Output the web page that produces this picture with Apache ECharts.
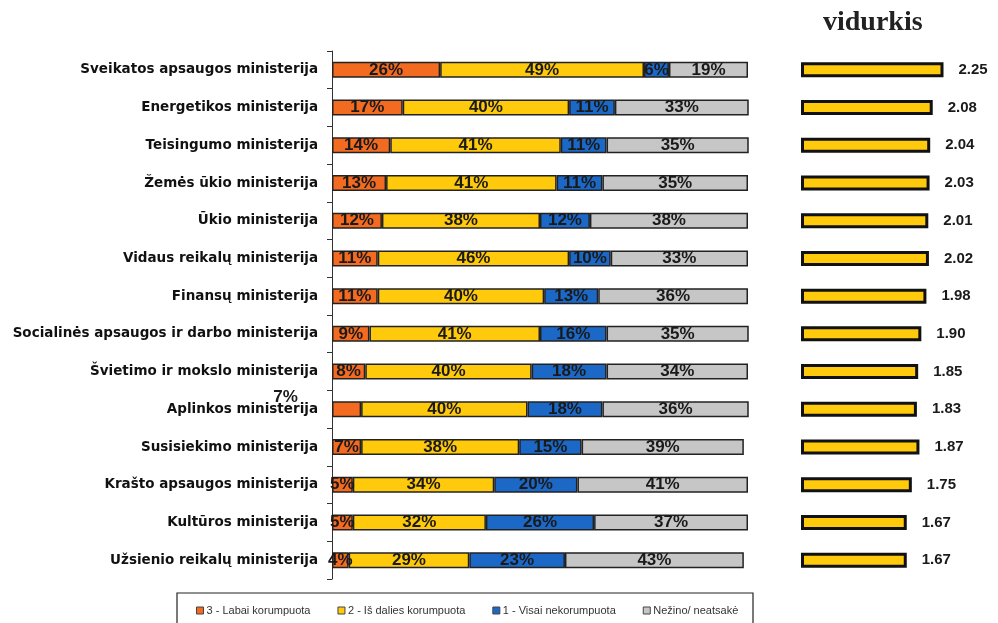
<!DOCTYPE html>
<html><head><meta charset="utf-8">
<script src="https://cdn.jsdelivr.net/npm/echarts@6/dist/echarts.min.js"></script>
<style>html,body{margin:0;padding:0;background:#fff}#c{width:998px;height:623px}</style>
</head><body><div id="c"></div>
<script>
const categories = ["Sveikatos apsaugos ministerija","Energetikos ministerija","Teisingumo ministerija","Žemės ūkio ministerija","Ūkio ministerija","Vidaus reikalų ministerija","Finansų ministerija","Socialinės apsaugos ir darbo ministerija","Švietimo ir mokslo ministerija","Aplinkos ministerija","Susisiekimo ministerija","Krašto apsaugos ministerija","Kultūros ministerija","Užsienio reikalų ministerija"];
const labai = [26,17,14,13,12,11,11,9,8,7,7,5,5,4];
const isDalies = [49,40,41,41,38,46,40,41,40,40,38,34,32,29];
const visaiNe = [6,11,11,11,12,10,13,16,18,18,15,20,26,23];
const nezino = [19,33,35,35,38,33,36,35,34,36,39,41,37,43];
const vidurkis = [2.25,2.08,2.04,2.03,2.01,2.02,1.98,1.90,1.85,1.83,1.87,1.75,1.67,1.67];
const seriesNames = ["3 - Labai korumpuota","2 - Iš dalies korumpuota","1 - Visai nekorumpuota","Nežino/ neatsakė"];
const colors = ["#F36A21","#FFC90C","#1C68C6","#C6C6C6"];

const chart = echarts.init(document.getElementById('c'));
const pctLabel = {show:true, position:'inside', formatter:'{c}%', color:'#1a1a1a', fontSize:17, fontWeight:'bold', fontFamily:'"Liberation Sans", Arial, sans-serif'};
function mk(name, data, color, idx){
  return {name, type:'bar', stack:'s', xAxisIndex:0, yAxisIndex:0, barWidth:16,
    data: data.map((v,i)=>{
      if(idx===0 && i===9) return {value:v, label:{offset:[-61,-12]}};
      return v;
    }),
    itemStyle:{color, borderColor:'#222', borderWidth:1.5},
    label: pctLabel, emphasis:{disabled:true}};
}
chart.setOption({
  animation:false,
  title:{text:'vidurkis', left:818, top:4, textStyle:{fontFamily:'"Liberation Serif","Times New Roman",serif', fontSize:28, fontWeight:'bold', color:'#222'}},
  legend:{data:seriesNames, left:191, top:600, icon:'rect', itemWidth:7, itemHeight:7, itemGap:27,
    textStyle:{fontSize:11, color:'#333', fontFamily:'"Liberation Sans", Arial, sans-serif', padding:[0,0,0,-2]},
    itemStyle:{borderColor:'#444', borderWidth:1}},
  graphic:[{type:'rect', shape:{x:177, y:593, width:576, height:60}, style:{fill:'none', stroke:'#222', lineWidth:1.2}, silent:true}],
  grid:[{left:332, right:250, top:51, bottom:44},{left:801, right:7, top:51, bottom:44}],
  xAxis:[{type:'value', gridIndex:0, min:0, max:100, show:false},{type:'value', gridIndex:1, min:0, max:3, show:false}],
  yAxis:[{type:'category', gridIndex:0, data:categories, inverse:true,
      axisLine:{show:true, lineStyle:{color:'#333', width:1}}, axisTick:{show:true, length:5, lineStyle:{color:'#333'}},
      axisLabel:{color:'#111', fontSize:13.5, fontWeight:'bold', margin:14, fontFamily:'"DejaVu Sans", sans-serif'}},
    {type:'category', gridIndex:1, data:categories, inverse:true, show:false}],
  series:[
    mk(seriesNames[0], labai, colors[0], 0),
    mk(seriesNames[1], isDalies, colors[1], 1),
    mk(seriesNames[2], visaiNe, colors[2], 2),
    mk(seriesNames[3], nezino, colors[3], 3),
    {name:'vidurkis', type:'bar', xAxisIndex:1, yAxisIndex:1, barWidth:15, data:vidurkis,
      itemStyle:{color:'#FFC90C', borderColor:'#111', borderWidth:3},
      label:{show:true, position:'right', distance:15, formatter:p=>p.value.toFixed(2), color:'#1a1a1a', fontSize:15, fontWeight:'bold', fontFamily:'"Liberation Sans", Arial, sans-serif'},
      emphasis:{disabled:true}}
  ]
});
</script></body></html>
